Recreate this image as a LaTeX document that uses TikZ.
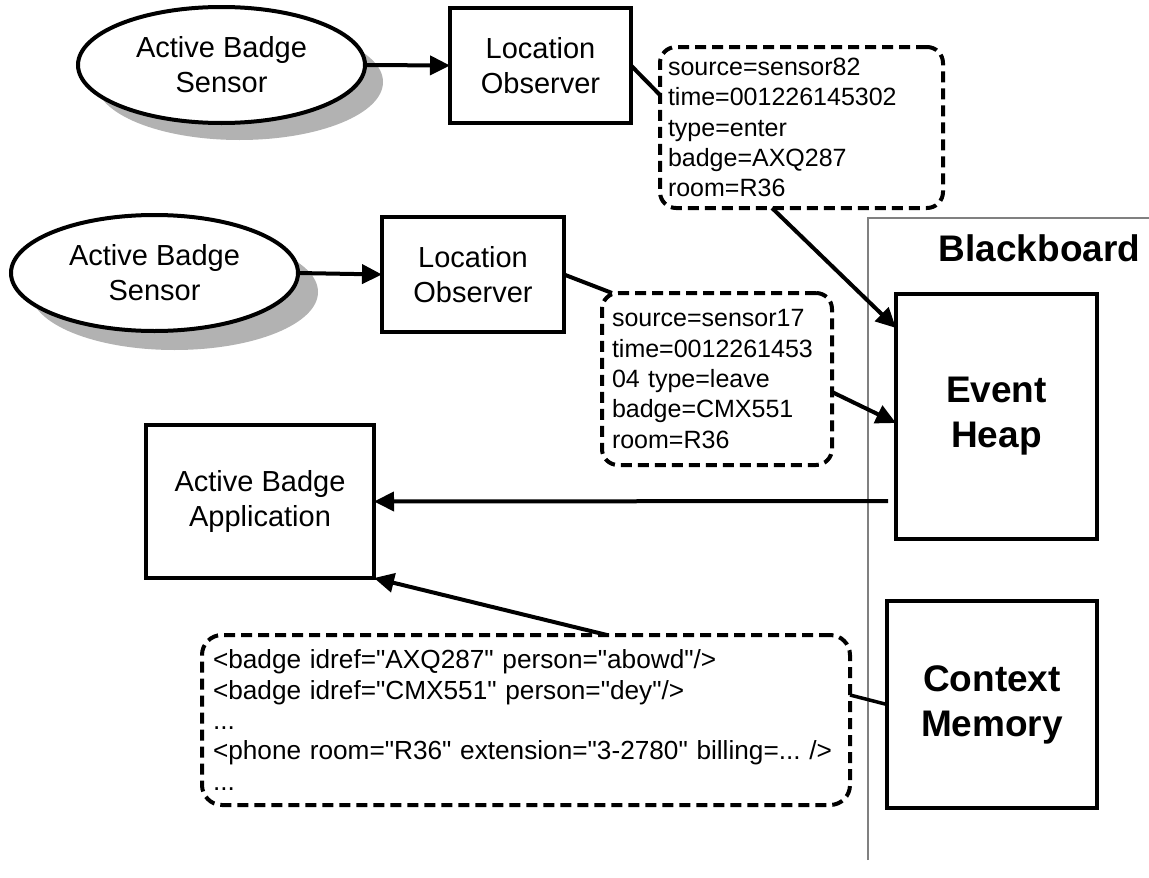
\documentclass[tikz,border=0pt]{standalone}
\usepackage{fontspec}
\setmainfont{Liberation Sans}
\usetikzlibrary{shapes.geometric,arrows.meta}
\definecolor{shadowgray}{HTML}{B2B2B2}
\definecolor{framegray}{HTML}{808080}
\newcommand{\qd}{\textquotedbl}
\begin{document}
\frenchspacing
\begin{tikzpicture}[x=1pt,y=-1pt,
  every node/.style={inner sep=0pt, outer sep=0pt},
  sensor/.style={ellipse, draw, line width=4pt, fill=white, minimum width=287pt, minimum height=116pt, align=center, font=\fontsize{29}{35}\selectfont},
  shadowell/.style={ellipse, fill=shadowgray, minimum width=287pt, minimum height=116pt},
  procbox/.style={rectangle, draw, line width=4pt, fill=white, align=center, font=\fontsize{29}{35}\selectfont},
  bigbox/.style={rectangle, draw, line width=4pt, fill=white, align=center, font=\fontsize{37}{45}\selectfont\bfseries},
  msgbox/.style={rectangle, draw, line width=4pt, fill=white, dash pattern=on 11pt off 6pt, rounded corners=16pt, align=left, font=\fontsize{25}{30.3}\selectfont\frenchspacing},
  conn/.style={line width=4pt},
  arr/.style={line width=4pt, -{Triangle[length=20pt,width=19pt]}},
  framestyle/.style={line width=2pt, draw=framegray},
]
\useasboundingbox (0,0) rectangle (1149,878);

% blackboard frame
\coordinate (fbot) at (868,860);
\coordinate (fcorner) at (868,218);
\coordinate (fright) at (1149,218);
\draw[framestyle] (fbot) -- (fcorner) -- (fright);
\node[font=\fontsize{37}{45}\selectfont\bfseries] (bblabel) at (1039.5,248) {Blackboard};

% sensors with shadows
\node[shadowell] (s1sh) at (239.5,82) {};
\node[sensor] (s1) at (221.5,65) {Active Badge\\Sensor};
\node[shadowell] (s2sh) at (174.5,292) {};
\node[sensor] (s2) at (154.5,273) {Active Badge\\Sensor};

% location observers
\node[procbox, minimum width=181pt, minimum height=115pt] (lo1) at (540.5,65.5) {Location\\Observer};
\node[procbox, minimum width=182pt, minimum height=115pt] (lo2) at (473,274.5) {Location\\Observer};

% message boxes
\node[msgbox, minimum width=283pt, minimum height=161pt, text width=267pt] (m1) at (801.5,127.5)
  {source=sensor82\\time=001226145302\\type=enter\\badge=AXQ287\\room=R36};
\node[msgbox, minimum width=230pt, minimum height=172pt, text width=210pt] (m2) at (717,379)
  {source=sensor17\\time=0012261453\\04 type=leave\\badge=CMX551\\room=R36};
\node[msgbox, rounded corners=20pt, minimum width=648pt, minimum height=170pt, text width=626pt, font=\fontsize{26.2}{30.3}\selectfont\frenchspacing] (xml) at (526,720)
  {<badge idref=\qd AXQ287\qd{} person=\qd abowd\qd/>\\<badge idref=\qd CMX551\qd{} person=\qd dey\qd/>\\...\\<phone room=\qd R36\qd{} extension=\qd 3-2780\qd{} billing=... />\\...};

% blackboard boxes
\node[bigbox, minimum width=201pt, minimum height=245pt] (eh) at (996.5,416.5) {Event\\Heap};
\node[bigbox, minimum width=210pt, minimum height=207pt] (cm) at (992,704.5) {Context\\Memory};

% application
\node[procbox, minimum width=228pt, minimum height=153pt] (app) at (260,501.5) {Active Badge\\Application};

% connectors
\draw[arr] (s1.east) -- (lo1.west);
\draw[arr] (s2.east) -- (lo2.west);
\draw[conn] (lo1.east) -- ([yshift=-48pt]m1.north west);
\draw[conn] (lo2.east) -- ([xshift=10pt]m2.north west);
\draw[arr] ([xshift=112pt]m1.south west) -- ([yshift=-34pt]eh.north west);
\draw[arr] ([yshift=-13pt]m2.east) -- ([yshift=-129pt]eh.north west);
\draw[arr] ([shift={(-8pt,38pt)}]eh.south west) -- (app.east);
\draw[arr] ([xshift=405pt]xml.north west) -- (app.south east);
\draw[line width=3.5pt] (cm.west) -- ([yshift=25pt]xml.east);
\end{tikzpicture}
\end{document}
